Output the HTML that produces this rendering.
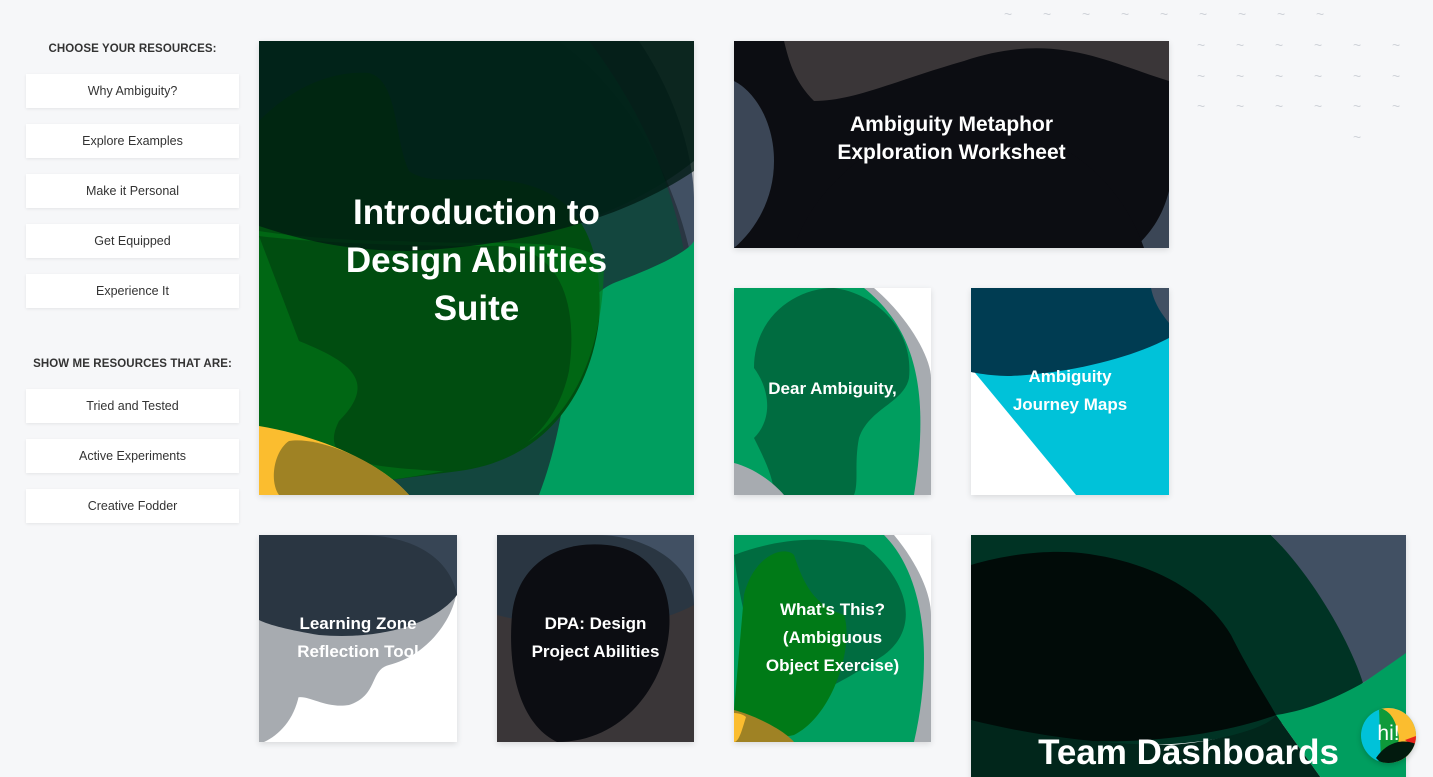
<!DOCTYPE html>
<html><head><meta charset="utf-8">
<style>
html,body{margin:0;width:1433px;height:777px;overflow:hidden}
body{background:#f6f7f9;font-family:"Liberation Sans",sans-serif;position:relative}
.h{position:absolute;left:26px;width:213px;text-align:center;font-size:11.5px;font-weight:bold;color:#333;letter-spacing:.1px}
.btn{position:absolute;left:26px;width:213px;height:34px;background:#fff;box-shadow:0 1px 3px rgba(0,0,0,.08);font-size:12.5px;color:#333;text-align:center;line-height:34px}
.card{position:absolute;overflow:hidden;box-shadow:0 2px 6px rgba(0,0,0,.12);background:#fff}
.card svg{position:absolute;left:0;top:0}
.t{position:absolute;left:0;right:0;text-align:center;color:#fff;font-weight:bold}
.tl{position:absolute;color:#cfd3d9;font-size:14px}
</style></head><body>
<div class="h" style="top:43px">CHOOSE YOUR RESOURCES:</div>
<div class="btn" style="top:74px">Why Ambiguity?</div>
<div class="btn" style="top:124px">Explore Examples</div>
<div class="btn" style="top:174px">Make it Personal</div>
<div class="btn" style="top:224px">Get Equipped</div>
<div class="btn" style="top:274px">Experience It</div>
<div class="h" style="top:358px">SHOW ME RESOURCES THAT ARE:</div>
<div class="btn" style="top:389px">Tried and Tested</div>
<div class="btn" style="top:439px">Active Experiments</div>
<div class="btn" style="top:489px">Creative Fodder</div>

<div id="tildes"></div>

<div class="card" style="left:259px;top:41px;width:435px;height:454px">
<svg width="435" height="454"><rect width="435" height="454" fill="#fff"/>
<path d="M0 0H435V454H0Z" fill="#a7abb0"/>
<path d="M0 0H380C420 60 435 120 435 160V454H0Z" fill="#415063"/>
<path d="M0 0H300C380 60 420 150 435 230V454H0Z" fill="#2a3642"/>
<path d="M0 0H435V120C360 180 250 210 150 210 80 210 30 195 0 185Z" fill="#02261e" opacity=".7"/>
<path d="M0 0H330C390 80 430 170 435 300V454H0Z" fill="#00533c" opacity=".55"/>
<path d="M435 200V454H280C320 350 300 260 360 240 400 225 430 210 435 200Z" fill="#009e5f"/>
<path d="M0 80C40 40 80 30 110 32 140 40 135 100 150 130 170 145 210 135 250 140 320 150 345 200 340 280 330 360 280 420 200 430 120 440 60 450 0 454Z" fill="#004d10"/>
<path d="M0 190C30 195 90 200 140 200 230 205 320 195 345 220 345 300 320 390 230 420 150 440 80 445 0 454Z" fill="#007a17" opacity=".6"/>
<path d="M0 195C40 200 120 205 230 205 300 200 320 260 310 330 295 400 240 430 180 430 100 425 60 420 80 380 120 340 90 320 40 300 0 270Z" fill="#004d10"/>
<path d="M0 385C60 395 120 420 150 454H0Z" fill="#fbbd2f"/>
<path d="M30 400C60 395 120 420 150 454H20C10 440 15 410 30 400Z" fill="#9f8224"/>
<path d="M0 0H435V130C360 180 260 205 150 210 80 210 30 195 0 185Z" fill="#001a12" opacity=".75"/>
</svg>
<div class="t" style="top:148px;font-size:35px;line-height:48px">Introduction to<br>Design Abilities<br>Suite</div></div>

<div class="card" style="left:734px;top:41px;width:435px;height:207px">
<svg width="435" height="207"><rect width="435" height="207" fill="#0c0d12"/>
<path d="M0 0H435V40C370 20 320 -10 230 20 160 40 120 60 80 60 60 40 55 20 50 0Z" fill="#3a3638"/>
<path d="M0 40C20 50 40 80 40 120 40 160 20 190 0 207Z" fill="#3b4656"/>
<path d="M435 150V207H400C420 190 430 170 435 150Z" fill="#3b4656"/>
<path d="M60 207C80 140 160 80 230 80 300 80 380 120 410 207Z" fill="#0c0d12"/>
</svg>
<div class="t" style="top:70px;font-size:21px;line-height:28px">Ambiguity Metaphor<br>Exploration Worksheet</div></div>

<div class="card" style="left:734px;top:288px;width:197px;height:207px">
<svg width="197" height="207"><rect width="197" height="207" fill="#fff"/>
<path d="M0 0H140C175 30 197 70 197 90V207H0Z" fill="#a7abb0"/>
<path d="M0 0H130C180 40 197 100 180 207H0Z" fill="#009e5f"/>
<path d="M20 80C20 30 60 0 100 0 140 5 180 40 175 90 170 115 135 120 125 150 120 175 125 195 120 207H40C40 190 30 170 20 150 40 130 35 100 20 80Z" fill="#006c40"/>
<path d="M0 175C20 180 40 195 50 207H0Z" fill="#a7abb0"/>
</svg>
<div class="t" style="top:91px;font-size:17px">Dear Ambiguity,</div></div>

<div class="card" style="left:971px;top:288px;width:198px;height:207px">
<svg width="198" height="207"><rect width="198" height="207" fill="#fff"/>
<path d="M0 80L198 50V207H105L0 80Z" fill="#00c2d9"/>
<path d="M0 0H198V50C160 70 100 85 40 88 20 88 5 85 0 84Z" fill="#003c52"/>
<path d="M180 0H198V35C190 25 183 15 180 0Z" fill="#415063"/>
</svg>
<div class="t" style="top:75px;font-size:17px;line-height:28px">Ambiguity<br>Journey Maps</div></div>

<div class="card" style="left:259px;top:535px;width:198px;height:207px">
<svg width="198" height="207"><rect width="198" height="207" fill="#fff"/>
<path d="M0 0H198V50C198 80 170 120 130 130 110 135 120 160 90 170 60 175 40 150 30 170 20 190 10 200 0 207Z" fill="#a7abb0"/>
<path d="M0 0H198V60C175 90 120 105 60 100 30 95 10 90 0 85Z" fill="#2a3642"/>
<path d="M0 0H198V60C190 20 150 0 100 0Z" fill="#415063" opacity=".6"/>
<path d="M0 130C20 140 40 150 40 160 35 185 20 200 5 207H0Z" fill="#a7abb0"/>
</svg>
<div class="t" style="top:75px;font-size:17px;line-height:28px">Learning Zone<br>Reflection Tool</div></div>

<div class="card" style="left:497px;top:535px;width:197px;height:207px">
<svg width="197" height="207"><rect width="197" height="207" fill="#3a3638"/>
<path d="M0 0H197V70C150 95 80 100 0 80Z" fill="#2a3642"/>
<path d="M0 0H197V70C197 30 150 0 100 0Z" fill="#415063"/>
<path d="M15 80C20 30 60 5 110 10 160 15 180 60 170 110 160 160 120 207 60 207 25 190 10 140 15 80Z" fill="#0c0d12"/>
</svg>
<div class="t" style="top:75px;font-size:17px;line-height:28px">DPA: Design<br>Project Abilities</div></div>

<div class="card" style="left:734px;top:535px;width:197px;height:207px">
<svg width="197" height="207"><rect width="197" height="207" fill="#fff"/>
<path d="M0 0H160C185 30 197 60 197 80V207H0Z" fill="#a7abb0"/>
<path d="M0 0H150C190 40 200 120 180 207H0Z" fill="#009e5f"/>
<path d="M0 20C40 5 80 0 130 10 170 40 190 90 150 120 120 140 100 150 80 160 50 170 40 150 30 130 15 110 5 60 0 20Z" fill="#006c40"/>
<path d="M10 60C20 20 50 10 60 20 70 50 80 70 110 80 120 110 100 180 60 200 30 207 10 190 0 175 0 120 10 90Z" fill="#007a17"/>
<path d="M0 175C20 180 50 195 60 207H0Z" fill="#9f8224"/>
<path d="M0 178C5 178 10 180 12 182 8 195 5 207 0 207Z" fill="#fbbd2f"/>
</svg>
<div class="t" style="top:61px;font-size:17px;line-height:28px">What's This?<br>(Ambiguous<br>Object Exercise)</div></div>

<div class="card" style="left:971px;top:535px;width:435px;height:250px">
<svg width="435" height="250"><rect width="435" height="250" fill="#fff"/>
<path d="M300 0H435V120L392 148C360 90 340 40 300 0Z" fill="#415063"/>
<path d="M0 0H300C345 45 380 110 392 148 330 190 250 210 170 210 100 210 40 200 0 185Z" fill="#003324"/>
<path d="M392 148L435 118V250H355L305 180C340 175 370 160 392 148Z" fill="#009e5f"/>
<path d="M0 30C40 18 80 15 110 18 170 25 230 50 260 100 280 140 300 170 305 180 250 200 170 210 100 205 40 200 15 195 0 185Z" fill="#010b08"/>
<path d="M0 185C60 200 130 210 200 210 260 205 300 190 305 180L355 250H0Z" fill="#01261b"/>
</svg>
<div class="t" style="top:198px;font-size:35px">Team Dashboards</div></div>

<div style="position:absolute;left:1361px;top:708px;width:55px;height:55px;border-radius:50%;overflow:hidden;box-shadow:0 2px 6px rgba(0,0,0,.2)">
<svg width="55" height="55"><rect width="55" height="55" fill="#00c2d9"/>
<path d="M18 0H55V35L20 55H55V55Z" fill="#fbbd2f"/>
<path d="M18 0C28 2 35 10 38 30L45 28 55 25V55H20Z" fill="#0e9a3a"/>
<path d="M38 28L55 20V55H35Z" fill="#fbbd2f"/>
<path d="M44 32L55 28V40Z" fill="#e8241b"/>
<path d="M15 50C25 35 40 30 55 36V55H20Z" fill="#021a0e"/>
</svg>
<div style="position:absolute;left:0;right:0;top:14px;text-align:center;color:#fff;font-size:21px">hi!</div></div>

<script>
const rows=[[1008,15,9,39],[1201,46,6,39],[1201,77,6,39],[1201,107,6,39],[1357,138,1,39]];
const c=document.getElementById('tildes');
rows.forEach(r=>{for(let i=0;i<r[2];i++){const s=document.createElement('span');


s.className='tl';s.style.left=(r[0]+i*r[3]-4)+'px';s.style.top=(r[1]-9)+'px';s.textContent='~';c.appendChild(s);}});
</script>
</body></html>
